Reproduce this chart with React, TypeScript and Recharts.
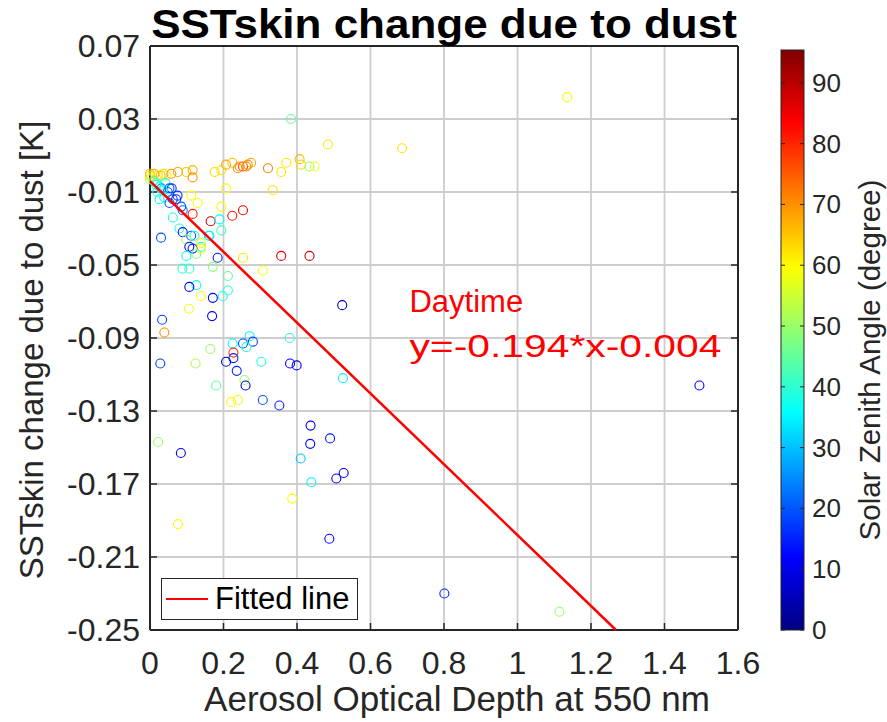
import React from "react";
import { ScatterChart, Scatter, XAxis, YAxis, CartesianGrid, Legend, ReferenceDot } from "recharts";

// aerosol optical depth (x), SST skin change in K (y), solar zenith angle (colour)
const aod = [
  0.0, 0.0, 0.004, 0.012, 0.02, 0.029, 0.037, 0.045, 0.0, 0.01,
  0.018, 0.026, 0.042, 0.048, 0.059, 0.02, 0.039, 0.075, 0.053, 0.031,
  0.058, 0.076, 0.099, 0.116, 0.116, 0.176, 0.194, 0.207, 0.224, 0.239,
  0.253, 0.262, 0.275, 0.321, 0.357, 0.371, 0.407, 0.411, 0.434, 0.448,
  0.244, 0.266, 0.484, 0.686, 1.135, 0.384, 0.207, 0.334, 0.194, 0.253,
  0.224, 0.165, 0.189, 0.194, 0.16, 0.139, 0.184, 0.253, 0.357, 0.434,
  0.171, 0.307, 0.212, 0.212, 0.171, 0.126, 0.112, 0.13, 0.116, 0.017,
  0.035, 0.053, 0.026, 0.062, 0.071, 0.085, 0.089, 0.062, 0.08, 0.089,
  0.112, 0.121, 0.099, 0.107, 0.116, 0.139, 0.099, 0.126, 0.139, 0.162,
  0.03, 0.088, 0.107, 0.107, 0.139, 0.198, 0.106, 0.169, 0.523, 0.033,
  0.039, 0.271, 0.225, 0.253, 0.28, 0.262, 0.38, 0.164, 0.227, 0.227,
  0.207, 0.028, 0.124, 0.303, 0.381, 0.399, 0.236, 0.257, 0.26, 0.18,
  0.525, 0.221, 0.239, 0.307, 0.352, 0.437, 0.49, 0.436, 0.022, 0.084,
  0.41, 0.527, 0.507, 0.439, 0.387, 0.076, 0.488, 0.801, 1.495, 1.114,
];
const dsst = [
  -0.001, 0.0, -0.002, 0.0, -0.001, -0.001, 0.0, -0.001, -0.003, -0.004,
  -0.005, -0.007, -0.005, -0.01, -0.008, -0.01, -0.013, -0.012, -0.016, -0.008,
  0.0, 0.001, 0.001, 0.002, -0.002, 0.001, 0.002, 0.005, 0.006, 0.003,
  0.004, 0.004, 0.006, 0.003, 0.001, 0.006, 0.008, 0.005, 0.004, 0.004,
  0.004, 0.005, 0.016, 0.014, 0.042, 0.03, -0.008, -0.009, -0.018, -0.02,
  -0.023, -0.026, -0.025, -0.031, -0.034, -0.04, -0.046, -0.046, -0.045, -0.045,
  -0.051, -0.053, -0.056, -0.064, -0.068, -0.061, -0.012, -0.016, -0.022, -0.006,
  -0.009, -0.008, -0.014, -0.014, -0.014, -0.018, -0.02, -0.024, -0.03, -0.032,
  -0.034, -0.034, -0.036, -0.04, -0.041, -0.041, -0.045, -0.044, -0.038, -0.034,
  -0.035, -0.052, -0.052, -0.062, -0.067, -0.067, -0.074, -0.078, -0.072, -0.08,
  -0.087, -0.089, -0.093, -0.093, -0.092, -0.095, -0.09, -0.096, -0.098, -0.101,
  -0.103, -0.104, -0.104, -0.103, -0.104, -0.105, -0.108, -0.113, -0.116, -0.116,
  -0.112, -0.125, -0.124, -0.124, -0.127, -0.138, -0.145, -0.148, -0.147, -0.153,
  -0.156, -0.164, -0.167, -0.169, -0.178, -0.192, -0.2, -0.23, -0.116, -0.24,
];
const sza = [
  62, 66, 60, 68, 62, 66, 64, 58, 52, 42,
  46, 36, 38, 22, 18, 38, 35, 16, 20, 26,
  70, 68, 65, 67, 70, 63, 62, 68, 66, 70,
  78, 72, 68, 72, 62, 62, 66, 63, 50, 58,
  70, 70, 62, 62, 60, 45, 60, 62, 60, 85,
  82, 88, 35, 42, 33, 36, 15, 62, 85, 88,
  48, 60, 45, 40, 12, 38, 60, 58, 80, 35,
  38, 20, 35, 18, 15, 20, 22, 38, 40, 15,
  20, 35, 50, 10, 15, 58, 38, 48, 60, 35,
  20, 40, 40, 10, 60, 38, 58, 12, 8, 18,
  70, 35, 35, 18, 18, 40, 40, 50, 78, 15,
  5, 18, 52, 38, 12, 12, 15, 50, 8, 45,
  35, 60, 58, 20, 15, 10, 15, 12, 50, 12,
  30, 10, 10, 35, 60, 60, 12, 15, 12, 50,
];

const xTicks = [0, 0.2, 0.4, 0.6, 0.8, 1, 1.2, 1.4, 1.6];
const yTicks = [0.07, 0.03, -0.01, -0.05, -0.09, -0.13, -0.17, -0.21, -0.25];
const cbTicks = [0, 10, 20, 30, 40, 50, 60, 70, 80, 90];
const cbMax = 95.4;

const fitSlope = -0.194;
const fitIntercept = -0.004;
const fitX = [0, 1.268];

const points = aod.map((x, i) => ({ x, y: dsst[i], sza: sza[i] }));
const fitData = fitX.map((x) => ({ x, y: fitSlope * x + fitIntercept }));

const FONT = "'Liberation Sans', Arial, Helvetica, sans-serif";
const INK = "#262626";

function jet(v: number) {
  const t = Math.max(0, Math.min(1, v / cbMax));
  const c = (a: number) => Math.round(255 * Math.max(0, Math.min(1, a)));
  const r = c(Math.min(4 * t - 1.5, -4 * t + 4.5));
  const g = c(Math.min(4 * t - 0.5, -4 * t + 3.5));
  const b = c(Math.min(4 * t + 0.5, -4 * t + 2.5));
  return `rgb(${r},${g},${b})`;
}

const XTick = (props: any) => {
  const { x, y, payload } = props;
  return (
    <text x={x} y={y + 51} textAnchor="middle" fontSize={32} fill={INK} fontFamily={FONT}>
      {String(payload.value)}
    </text>
  );
};

const YTick = (props: any) => {
  const { x, y, payload } = props;
  return (
    <text x={x - 17} y={y + 11} textAnchor="end" fontSize={32} fill={INK} fontFamily={FONT}>
      {String(payload.value)}
    </text>
  );
};

const NoTick = () => <g />;

const Circle = (props: any) => (
  <circle cx={props.cx} cy={props.cy} r={4.5} fill="none" stroke={jet(props.payload.sza)} strokeWidth={1.1} />
);

const LegendBox = () => (
  <div
    style={{
      width: 197,
      height: 42,
      boxSizing: "border-box",
      border: `1.5px solid ${INK}`,
      background: "#fff",
      display: "flex",
      alignItems: "center",
      fontFamily: FONT,
      fontSize: 31,
      color: "#000",
    }}
  >
    <span style={{ display: "inline-block", width: 42, borderTop: "2.5px solid #ff0000", marginLeft: 4, marginRight: 7 }} />
    <span>Fitted line</span>
  </div>
);

const Annotation = (props: any) => {
  const { viewBox } = props;
  const x = viewBox.x;
  const y = viewBox.y;
  return (
    <g fontFamily={FONT} fontSize={31} fill="#ff0000">
      <text x={x} y={y}>Daytime</text>
      <text x={x} y={y + 45} textLength={312} lengthAdjust="spacingAndGlyphs">
        y=-0.194*x-0.004
      </text>
    </g>
  );
};

const cbLeft = 781;
const cbWidth = 23;
const cbTop = 50;
const cbBottom = 630;
const cbY = (v: number) => cbBottom - (v / cbMax) * (cbBottom - cbTop);
const gradStops = [0, 0.125, 0.375, 0.625, 0.875, 1];

export default function App() {
  return (
    <div style={{ position: "absolute", left: 0, top: 0, width: 887, height: 722, background: "#fff" }}>
      <ScatterChart width={887} height={722} margin={{ top: 45, right: 148, bottom: 0, left: 0 }}>
        <CartesianGrid stroke="#cdcdcd" strokeWidth={1.8} />
        <XAxis
          type="number"
          dataKey="x"
          domain={[0, 1.6]}
          ticks={xTicks}
          interval={0}
          height={92}
          tickSize={-7}
          tickMargin={0}
          tick={<XTick />}
          axisLine={{ stroke: INK, strokeWidth: 2 }}
          tickLine={{ stroke: INK, strokeWidth: 1.5 }}
        />
        <XAxis
          xAxisId="top"
          orientation="top"
          type="number"
          domain={[0, 1.6]}
          allowDataOverflow
          ticks={xTicks}
          interval={0}
          height={1}
          tickSize={-7}
          tick={<NoTick />}
          axisLine={{ stroke: INK, strokeWidth: 2 }}
          tickLine={{ stroke: INK, strokeWidth: 1.5 }}
        />
        <YAxis
          type="number"
          dataKey="y"
          domain={[-0.25, 0.07]}
          ticks={yTicks}
          interval={0}
          width={150}
          tickSize={-7}
          tickMargin={0}
          tick={<YTick />}
          axisLine={{ stroke: INK, strokeWidth: 2 }}
          tickLine={{ stroke: INK, strokeWidth: 1.5 }}
        />
        <YAxis
          yAxisId="right"
          orientation="right"
          type="number"
          domain={[-0.25, 0.07]}
          allowDataOverflow
          ticks={yTicks}
          interval={0}
          width={1}
          tickSize={-7}
          tick={<NoTick />}
          axisLine={{ stroke: INK, strokeWidth: 2 }}
          tickLine={{ stroke: INK, strokeWidth: 1.5 }}
        />
        <Scatter name="Daytime" data={points} shape={Circle} isAnimationActive={false} legendType="none" />
        <Scatter
          name="Fitted line"
          data={fitData}
          line={{ stroke: "#ff0000", strokeWidth: 2.5 }}
          shape={NoTick}
          isAnimationActive={false}
          legendType="line"
        />
        <ReferenceDot x={0.706} y={-0.0758} r={0} fill="none" stroke="none" label={<Annotation />} />
        <Legend
          layout="horizontal"
          verticalAlign="middle"
          align="center"
          content={<LegendBox />}
          wrapperStyle={{ left: 161, top: 578, width: 197, height: 42 }}
        />
      </ScatterChart>
      <svg
        width={887}
        height={722}
        style={{ position: "absolute", left: 0, top: 0, pointerEvents: "none" }}
        fontFamily={FONT}
      >
        <defs>
          <linearGradient id="jetbar" x1="0" y1="1" x2="0" y2="0">
            {gradStops.map((t) => (
              <stop key={t} offset={t} stopColor={jet(t * cbMax)} />
            ))}
          </linearGradient>
        </defs>
        <text transform="translate(444,38) scale(1.1,1)" textAnchor="middle" fontSize={40} fontWeight="bold" fill="#000">
          SSTskin change due to dust
        </text>
        <text x={457} y={711} textAnchor="middle" fontSize={35} fill={INK}>
          Aerosol Optical Depth at 550 nm
        </text>
        <text transform="translate(43,350) rotate(-90)" textAnchor="middle" fontSize={33} fill={INK}>
          SSTskin change due to dust [K]
        </text>
        <rect x={cbLeft} y={cbTop} width={cbWidth} height={cbBottom - cbTop} fill="url(#jetbar)" stroke={INK} strokeWidth={1} />
        {cbTicks.map((v) => (
          <g key={v}>
            <line x1={cbLeft} x2={cbLeft + 4} y1={cbY(v)} y2={cbY(v)} stroke={INK} strokeWidth={1} />
            <line x1={cbLeft + cbWidth - 4} x2={cbLeft + cbWidth} y1={cbY(v)} y2={cbY(v)} stroke={INK} strokeWidth={1} />
            <text x={cbLeft + cbWidth + 8} y={cbY(v) + 9} fontSize={26} fill={INK}>
              {v}
            </text>
          </g>
        ))}
        <text transform="translate(880,360) rotate(-90)" textAnchor="middle" fontSize={29.5} fill={INK}>
          Solar Zenith Angle (degree)
        </text>
      </svg>
    </div>
  );
}
